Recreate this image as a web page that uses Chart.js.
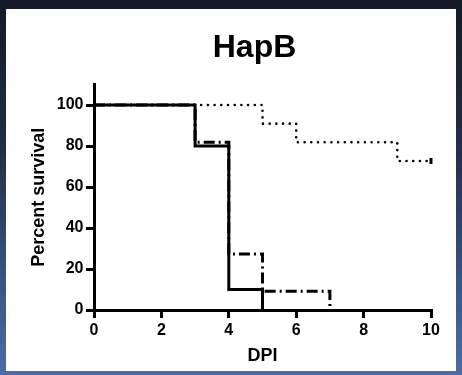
<!DOCTYPE html>
<html>
<head>
<meta charset="utf-8">
<script src="https://cdn.jsdelivr.net/npm/chart.js@4.4.1/dist/chart.umd.min.js"></script>
<style>
  html, body { margin: 0; padding: 0; }
  body {
    width: 462px; height: 375px; overflow: hidden; position: relative;
    background: linear-gradient(to bottom, #141a26 0%, #222e45 40%, #3a5484 75%, #4d6ca3 100%);
  }
  #panel { position: absolute; left: 6px; top: 9px; width: 450px; height: 362px; background: #fff; }
  #wrap { position: absolute; left: 0; top: 0; width: 462px; height: 375px; }
</style>
</head>
<body>
<div id="panel"></div>
<div id="wrap"><canvas id="chart" width="462" height="375"></canvas></div>
<script>
// Kaplan-Meier survival, three groups (day of event, percent surviving)
const solidDays = [0, 3, 4, 5];
const solidSurvival = [100, 80, 10, 0];

const dashDotDays = [0, 3, 4, 5, 7];
const dashDotSurvival = [100, 81.8, 27.3, 9.1, 0];

const dottedDays = [0, 5, 6, 9, 10];
const dottedSurvival = [100, 90.9, 81.8, 72.7, 72.7];

const xTickValues = [0, 2, 4, 6, 8, 10];
const yTickValues = [0, 20, 40, 60, 80, 100];

const chartTitle = 'HapB';
const xTitle = 'DPI';
const yTitle = 'Percent survival';

const FONT = "'Liberation Sans', Arial, Helvetica, sans-serif";

function points(days, values) {
  return days.map((d, i) => ({ x: d, y: values[i] }));
}

// Title centred over the graph, drawn on the canvas
const titlePlugin = {
  id: 'graphTitle',
  afterDraw(chart) {
    const ctx = chart.ctx;
    ctx.save();
    ctx.font = 'bold 32px ' + FONT;
    ctx.fillStyle = '#000';
    ctx.textAlign = 'center';
    ctx.textBaseline = 'alphabetic';
    ctx.fillText(chartTitle, chart.chartArea.left + (chart.chartArea.right - chart.chartArea.left) / 2 - 8, 57);
    ctx.restore();
  }
};

const lastIdx = dottedDays.length - 1;

new Chart(document.getElementById('chart'), {
  type: 'line',
  data: {
    datasets: [
      {
        label: 'solid',
        data: points(solidDays, solidSurvival),
        stepped: true,
        borderColor: '#000',
        borderWidth: 3,
        pointRadius: 0,
        fill: false
      },
      {
        label: 'dash-dot',
        data: points(dashDotDays, dashDotSurvival),
        stepped: true,
        borderColor: '#000',
        borderWidth: 3,
        borderDash: [11, 4, 2, 4],
        pointRadius: 0,
        fill: false
      },
      {
        label: 'dotted',
        data: points(dottedDays, dottedSurvival),
        stepped: true,
        borderColor: '#000',
        borderWidth: 2.6,
        borderDash: [0, 6.7],
        borderCapStyle: 'round',
        pointRadius: dottedDays.map((d, i) => i === lastIdx ? 3 : 0),
        pointStyle: 'line',
        rotation: 90,
        pointBorderWidth: 3,
        pointBorderColor: '#000',
        fill: false
      }
    ]
  },
  options: {
    responsive: false,
    animation: false,
    devicePixelRatio: 1,
    clip: false,
    layout: { padding: { top: 84.5, right: 31, left: 0, bottom: 0 } },
    plugins: {
      legend: { display: false },
      tooltip: { enabled: false },
      title: { display: false }
    },
    scales: {
      x: {
        type: 'linear',
        min: 0,
        max: 10,
        afterBuildTicks: s => { s.ticks = xTickValues.map(v => ({ value: v })); },
        afterFit: s => { s.height = 65; },
        ticks: {
          color: '#000',
          padding: 3,
          maxRotation: 0,
          font: { family: FONT, weight: 'bold', size: 16 }
        },
        grid: { drawOnChartArea: false, drawTicks: true, tickLength: 8, lineWidth: 3, color: '#000' },
        border: { display: true, width: 3, color: '#000' },
        title: {
          display: true,
          text: xTitle,
          color: '#000',
          font: { family: FONT, weight: 'bold', size: 18 },
          padding: { top: 0, bottom: 8 }
        }
      },
      y: {
        type: 'linear',
        min: 0,
        max: 110,
        afterBuildTicks: s => { s.ticks = yTickValues.map(v => ({ value: v })); },
        afterFit: s => { s.width = 94; },
        ticks: {
          color: '#000',
          padding: 2.5,
          font: { family: FONT, weight: 'bold', size: 16 }
        },
        grid: { drawOnChartArea: false, drawTicks: true, tickLength: 8, lineWidth: 3, color: '#000' },
        border: { display: true, width: 3, color: '#000' },
        title: {
          display: true,
          text: yTitle,
          color: '#000',
          font: { family: FONT, weight: 'bold', size: 18 },
          padding: { top: 28, bottom: 0 }
        }
      }
    }
  },
  plugins: [titlePlugin]
});
</script>
</body>
</html>
